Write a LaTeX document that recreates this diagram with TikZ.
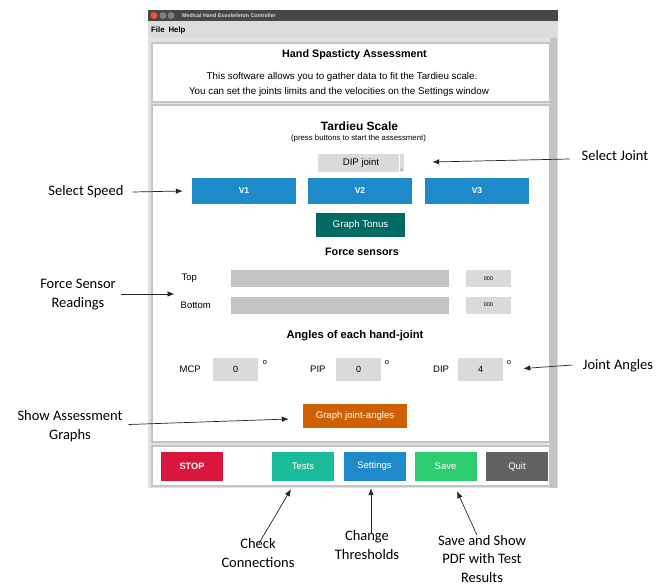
\documentclass[tikz,border=0pt]{standalone}
\usepackage{fontspec}
\setmainfont{Liberation Sans}
\newfontfamily\notefont{Carlito}
\usepackage{xcolor}
\usetikzlibrary{shapes,arrows,arrows.meta,positioning}
\definecolor{titlebar}{RGB}{74,71,66}
\definecolor{menubg}{RGB}{220,220,220}
\definecolor{winbg}{RGB}{226,226,226}
\definecolor{framegray}{RGB}{196,196,196}
\definecolor{fieldgray}{RGB}{218,218,218}
\definecolor{bargray}{RGB}{196,196,196}
\definecolor{btnblue}{RGB}{31,138,201}
\definecolor{btnteal}{RGB}{0,107,99}
\definecolor{btnorange}{RGB}{206,96,2}
\definecolor{btnred}{RGB}{218,22,60}
\definecolor{btnmint}{RGB}{26,188,156}
\definecolor{btngreen}{RGB}{46,204,113}
\definecolor{btngray}{RGB}{98,98,98}
\definecolor{closered}{RGB}{226,88,50}

\begin{document}
\begin{tikzpicture}[x=1pt,y=-1pt,
  panel/.style={draw=framegray,fill=white,line width=1.2pt},
  button/.style={rectangle,inner sep=0pt,text=white,minimum width=62pt,minimum height=29pt,font=\fontsize{9.5}{11}\selectfont},
  speedbtn/.style={rectangle,fill=btnblue,inner sep=0pt,text=white,minimum width=104pt,minimum height=26pt,font=\bfseries\fontsize{8.5}{10}\selectfont},
  field/.style={rectangle,fill=fieldgray,inner sep=0pt,minimum width=45pt,minimum height=23pt,font=\fontsize{9}{10}\selectfont},
  bar/.style={rectangle,fill=bargray,inner sep=0pt,minimum width=218pt,minimum height=17pt},
  valbox/.style={rectangle,fill=fieldgray,inner sep=0pt,minimum width=45pt,minimum height=17pt,font=\fontsize{5.5}{6}\selectfont},
  label/.style={anchor=west,inner sep=0pt,font=\fontsize{9.5}{11}\selectfont},
  degree/.style={inner sep=0pt,font=\fontsize{7.5}{8}\selectfont},
  heading/.style={inner sep=0pt,font=\bfseries\fontsize{10.8}{12}\selectfont},
  note/.style={align=center,inner sep=1pt,font=\notefont\fontsize{14.5}{19}\selectfont},
  pointer/.style={draw=black!85,-{Latex[length=7pt,width=5.5pt]},line width=0.7pt}]

  % background and window frame
  \useasboundingbox[fill=white] (0,0) rectangle (661,586);
  \fill[winbg] (148,10) rectangle (558,488);
  \fill[titlebar] (148,10) rectangle (558,21);
  \fill[menubg] (148,21) rectangle (558,38);
  \fill[framegray] (550,38) rectangle (557,488);
  \fill[closered] (154,15.5) circle (3.5);
  \fill[gray] (163,15.5) circle (3.5);
  \fill[gray] (171,15.5) circle (3.5);
  \node[anchor=west,inner sep=0pt,text=white!85!black,font=\bfseries\fontsize{5.3}{6}\selectfont] (wintitle) at (182,15.5) {Medical Hand Exoskeleton Controller};
  \node[anchor=west,inner sep=0pt,font=\bfseries\fontsize{7.8}{8}\selectfont] (menu) at (151,30) {File\enspace Help};

  % panels
  \draw[panel] (152,43) rectangle (550,102);
  \draw[panel] (152,105) rectangle (550,442);
  \draw[panel] (152,446) rectangle (550,486);

  % header
  \node[heading] (apptitle) at (354.5,55) {Hand Spasticty Assessment};
  \node[inner sep=0pt,font=\fontsize{9.8}{11}\selectfont] (intro1) at (342,76.5) {This software allows you to gather data to fit the Tardieu scale.};
  \node[inner sep=0pt,font=\fontsize{9.8}{11}\selectfont] (intro2) at (339,91.5) {You can set the joints limits and the velocities on the Settings window};

  % Tardieu scale
  \node[inner sep=0pt,font=\bfseries\fontsize{12}{14}\selectfont] (tardieu) at (359.5,126.5) {Tardieu Scale};
  \node[inner sep=0pt,font=\fontsize{7.8}{9}\selectfont] (press) at (358.5,138) {(press buttons to start the assessment)};
  \node[rectangle,fill=fieldgray,inner sep=0pt,minimum width=86pt,minimum height=18pt,font=\fontsize{9.6}{11}\selectfont] (dipjoint) at (361,163) {DIP joint\hspace{6pt}};
  \draw[white] ([xshift=-5pt]dipjoint.north east) -- ([xshift=-5pt]dipjoint.south east);
  \fill[black!70] ([xshift=-3.5pt,yshift=2pt]dipjoint.south east) rectangle ([xshift=-2pt,yshift=3.5pt]dipjoint.south east);
  \node[speedbtn] (v1) at (244,191) {V1};
  \node[speedbtn] (v2) at (360,191) {V2};
  \node[speedbtn] (v3) at (477,191) {V3};
  \node[rectangle,fill=btnteal,inner sep=0pt,text=white,minimum width=89pt,minimum height=24pt,font=\fontsize{9.7}{11}\selectfont] (tonus) at (360.5,225) {Graph Tonus};

  % force sensors
  \node[heading] (forcehead) at (362,251.5) {Force sensors};
  \node[label] (toplbl) at (181.5,278) {Top};
  \node[bar] (topbar) at (340,278.5) {};
  \node[valbox] (topval) at (488.5,278.5) {000};
  \node[label] (botlbl) at (180.5,305) {Bottom};
  \node[bar] (botbar) at (340,305) {};
  \node[valbox] (botval) at (488.5,305) {000};

  % joint angles
  \node[heading,font=\bfseries\fontsize{11.2}{12}\selectfont] (anglehead) at (355,336) {Angles of each hand-joint};
  \node[label] (mcplbl) at (179.5,369) {MCP};
  \node[field] (mcp) at (235.5,369.5) {0};
  \node[degree] (mcpdeg) at (265,362.5) {o};
  \node[label] (piplbl) at (310,369) {PIP};
  \node[field] (pip) at (358.5,369.5) {0};
  \node[degree] (pipdeg) at (387,362.5) {o};
  \node[label] (diplbl) at (433,369) {DIP};
  \node[field] (dip) at (480.5,369.5) {4};
  \node[degree] (dipdeg) at (509,362.5) {o};
  \node[rectangle,fill=btnorange,inner sep=0pt,text=white,minimum width=104pt,minimum height=24pt,font=\fontsize{9.6}{11}\selectfont] (graphangles) at (355,416) {Graph joint-angles};

  % bottom buttons
  \node[button,fill=btnred,font=\bfseries\fontsize{9.2}{10}\selectfont] (stop) at (192,466.5) {STOP};
  \node[button,fill=btnmint] (tests) at (303,466.5) {Tests};
  \node[button,fill=btnblue] (settings) at (374.5,466.5) {Settings};
  \node[button,fill=btngreen] (save) at (445.5,466.5) {Save};
  \node[button,fill=btngray] (quit) at (517,466.5) {Quit};

  % annotations
  \node[note] (selspeed) at (86,192) {Select Speed};
  \node[note] (forcenote) at (78,295) {Force Sensor\\Readings};
  \node[note] (graphsnote) at (70,426.5) {Show Assessment\\Graphs};
  \node[note] (seljoint) at (615,156) {Select Joint};
  \node[note] (anglesnote) at (618,366) {Joint Angles};
  \node[note] (checknote) at (258,553) {Check\\Connections};
  \node[note] (changenote) at (367,545.5) {Change\\Thresholds};
  \node[note,font=\notefont\fontsize{14.5}{18.5}\selectfont] (savenote) at (482,559) {Save and Show\\PDF with Test\\Results};

  \draw[pointer] ([xshift=8pt]selspeed.east) -- ([xshift=-9pt]v1.west);
  \draw[pointer] ([xshift=4pt,yshift=1pt]forcenote.east) -- ([xshift=-7pt,yshift=-16pt]toplbl.west);
  \draw[pointer] ([xshift=5pt,yshift=2pt]graphsnote.east) -- ([xshift=-14pt,yshift=-3pt]graphangles.west);
  \draw[pointer] ([xshift=-11pt,yshift=-3pt]seljoint.west) -- ([xshift=28pt,yshift=1pt]dipjoint.east);
  \draw[pointer] ([xshift=-9pt,yshift=1pt]anglesnote.west) -- ([xshift=12pt,yshift=-6pt]dipdeg.east);
  \draw[pointer] ([xshift=1pt,yshift=-6pt]checknote.north) -- ([xshift=-12pt,yshift=-8pt]tests.south);
  \draw[pointer] ([xshift=4pt,yshift=-3pt]changenote.north) -- ([xshift=-3.5pt,yshift=-7pt]settings.south);
  \draw[pointer] ([xshift=-5pt,yshift=-1pt]savenote.north) -- ([xshift=11.5pt,yshift=-10pt]save.south);
\end{tikzpicture}
\end{document}
